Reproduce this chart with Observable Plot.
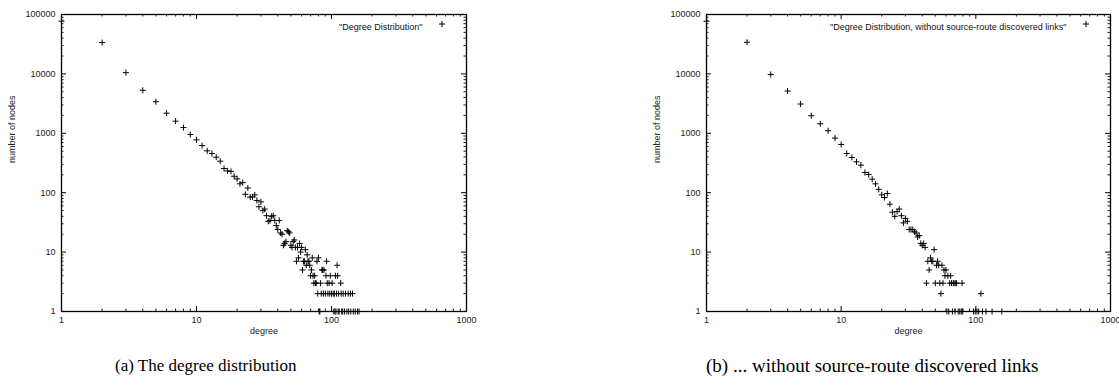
<!DOCTYPE html>
<html><head><meta charset="utf-8">
<script src="https://cdn.jsdelivr.net/npm/d3@7"></script>
<script src="https://cdn.jsdelivr.net/npm/@observablehq/plot@0.6"></script>
<style>
html,body{margin:0;padding:0;background:#fff;overflow:hidden;width:1119px;height:388px;}
#wrap{position:relative;width:1119px;height:388px;overflow:hidden;}
.panel{position:absolute;top:0;}
.cap{position:absolute;font-family:"Liberation Serif","Times New Roman",serif;font-size:17px;color:#000;white-space:nowrap;line-height:1;}
</style></head><body><div id="wrap"></div>
<script>
// ---- data ----
const degreesA = [1,2,3,4,5,6,7,8,9,10,11,12,13,14,15,16,17,18,19,20,21,22,23,24,25,26,27,28,29,30,31,32,33,34,35,36,37,38,39,40,41,42,43,44,45,46,47,48,49,50,51,52,53,54,55,56,57,58,59,60,61,62,63,64,65,66,67,68,69,70,71,72,73,74,75,76,77,78,79,80,81,82,83,84,85,86,87,88,90,91,92,93,94,96,97,98,100,101,103,104,105,106,107,108,109,110,111,112,113,114,117,118,119,121,122,125,127,130,133,134,138,139,143,145,150,156,160];
const countsA  = [77000,33600,10500,5300,3400,2180,1600,1250,955,777,622,507,457,395,339,255,233,228,189,171,141,148,94,120,84,85,92,74,58,70,50,53,41,33,34,40,41,34,28,24,34,21,20,13,14,15,23,22,21,13,12,15,16,12,7,12,8,14,10,12,5,7,7,11,6,9,7,7,6,4,5,8,4,3,4,3,3,7,2,8,1,1,3,2,5,5,2,5,2,4,7,3,2,3,2,4,2,3,2,1,2,1,4,1,2,6,4,1,2,1,3,2,1,1,2,1,2,1,2,1,2,1,2,1,1,1,1];

const degreesB = [1,2,3,4,5,6,7,8,9,10,11,12,13,14,15,16,17,18,19,20,21,22,23,24,25,26,27,28,29,30,31,32,33,34,35,36,37,38,39,40,41,42,43,44,45,46,47,48,49,50,51,52,53,54,55,56,57,58,59,60,61,62,63,64,65,66,67,68,69,70,71,72,74,76,78,79,80,96,99,102,105,109,112,119,132,156];
const countsB  = [77000,34100,9800,5150,3110,1977,1448,1104,830,649,457,392,331,291,219,202,169,141,114,92,83,97,64,47,40,48,53,41,31,37,33,24,24,24,22,21,18,19,14,13,14,12,3,7,5,8,7,7,11,3,6,7,6,3,2,6,3,5,4,5,1,4,1,3,4,3,1,3,3,1,3,3,1,1,1,3,1,1,1,1,1,2,1,1,1,1];

const xTicks = [1,10,100,1000];
const yTicks = [1,10,100,1000,10000,100000];
const legendA = '"Degree Distribution"';
const legendB = '"Degree Distribution, without source-route discovered links"';
const captionA = "(a) The degree distribution";
const captionB = "(b) ... without source-route discovered links";
const xLabel = "degree";
const yLabel = "number of nodes";

// minor ticks (2..9 within each decade)
function minors(lo, hi) {
  const out = [];
  for (let d = lo; d < hi; d *= 10) for (let k = 2; k <= 9; k++) out.push(k * d);
  return out;
}
const xMinor = minors(1, 1000);
const yMinor = minors(1, 100000);

const H = 340, MT = 14, MB = 29;

function panel(degs, cnts, legend, left, width, ml, mr) {
  const data = degs.map((d, i) => ({degree: d, count: cnts[i]}));
  const fw = width - ml - mr, fh = H - MT - MB;
  const ink = "#000";
  const chart = Plot.plot({
    width, height: H,
    marginLeft: ml, marginRight: mr, marginTop: MT, marginBottom: MB,
    style: {fontFamily: "'Liberation Sans', Arial, sans-serif", fontSize: "9px", color: "#222", overflow: "visible", background: "transparent"},
    x: {type: "log", domain: [1, 1000]},
    y: {type: "log", domain: [1, 100000]},
    marks: [
      // minor ticks, all four sides, inward
      Plot.tickX(xMinor, {x: d => d, insetTop: fh - 2.5, stroke: ink, strokeWidth: 0.9}),
      Plot.tickX(xMinor, {x: d => d, insetBottom: fh - 2.5, stroke: ink, strokeWidth: 0.9}),
      Plot.tickY(yMinor, {y: d => d, insetRight: fw - 2.5, stroke: ink, strokeWidth: 0.9}),
      Plot.tickY(yMinor, {y: d => d, insetLeft: fw - 2.5, stroke: ink, strokeWidth: 0.9}),
      // major ticks
      Plot.tickX(xTicks, {x: d => d, insetTop: fh - 5, stroke: ink, strokeWidth: 1}),
      Plot.tickX(xTicks, {x: d => d, insetBottom: fh - 5, stroke: ink, strokeWidth: 1}),
      Plot.tickY(yTicks, {y: d => d, insetRight: fw - 5, stroke: ink, strokeWidth: 1}),
      Plot.tickY(yTicks, {y: d => d, insetLeft: fw - 5, stroke: ink, strokeWidth: 1}),
      Plot.frame({stroke: ink, strokeWidth: 1.3}),
      // tick labels
      Plot.axisX(xTicks, {tickSize: 0, tickPadding: 5, tickFormat: d => String(d), label: null, fill: "#222"}),
      Plot.axisY(yTicks, {tickSize: 0, tickPadding: 6, tickFormat: d => String(d), label: null, fill: "#222"}),
      // axis titles
      Plot.text([xLabel], {text: d => d, frameAnchor: "bottom", dy: 22, fill: "#222"}),
      Plot.text([yLabel], {text: d => d, frameAnchor: "left", dx: -49, rotate: -90, fill: "#222"}),
      // key
      Plot.text([legend], {text: d => d, frameAnchor: "top-right", dx: -44, dy: 9.5, textAnchor: "end", fill: "#111"}),
      Plot.dot([legend], {frameAnchor: "top-right", dx: -24.5, dy: 9.5, symbol: "plus", r: 2.1, stroke: ink, strokeWidth: 1}),
      // data
      Plot.dot(data, {x: "degree", y: "count", symbol: "plus", r: 2.1, stroke: ink, strokeWidth: 1})
    ]
  });
  const div = document.createElement("div");
  div.className = "panel";
  div.style.left = left + "px";
  div.appendChild(chart);
  document.getElementById("wrap").appendChild(div);
}

panel(degreesA, countsA, legendA, 0, 560, 61, 94);
panel(degreesB, countsB, legendB, 560, 559, 146, 9);

function caption(text, left, top, size) {
  const c = document.createElement("div");
  c.className = "cap";
  c.textContent = text;
  c.style.left = left + "px";
  c.style.top = top + "px";
  c.style.fontSize = size + "px";
  document.getElementById("wrap").appendChild(c);
}
caption(captionA, 115, 357, 17);
caption(captionB, 706, 356, 19);
</script>
</body></html>
